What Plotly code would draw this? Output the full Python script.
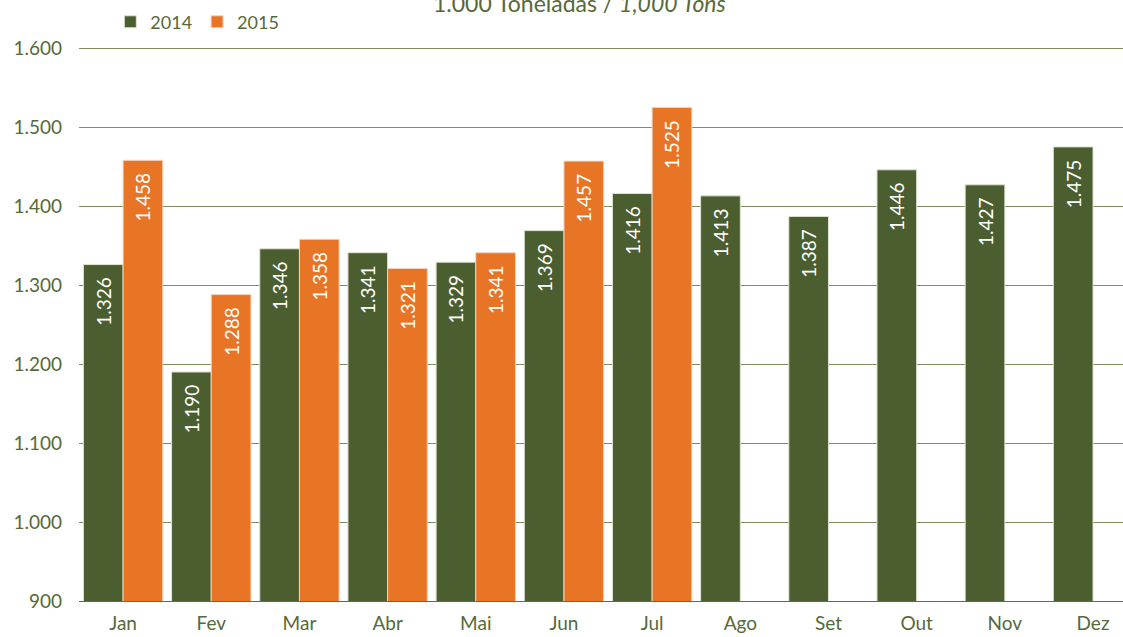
import plotly.graph_objects as go

months = ["Jan", "Fev", "Mar", "Abr", "Mai", "Jun", "Jul", "Ago", "Set", "Out", "Nov", "Dez"]
v2014 = [1326, 1190, 1346, 1341, 1329, 1369, 1416, 1413, 1387, 1446, 1427, 1475]
v2015 = [1458, 1288, 1358, 1321, 1341, 1457, 1525, None, None, None, None, None]
yticks = [900, 1000, 1100, 1200, 1300, 1400, 1500, 1600]
ytick_labels = ["900", "1.000", "1.100", "1.200", "1.300", "1.400", "1.500", "1.600"]

GREEN = "#4a5e2f"
ORANGE = "#e87425"
TEXTC = "#56693a"
FONT = "Lato"

def fmt(v):
    return "" if v is None else f"{v/1000:.3f}\u00a0\u00a0"

fig = go.Figure()
fig.add_trace(go.Bar(
    x=months, y=v2014, name="2014",
    marker=dict(color=GREEN, line=dict(color="#dfe3d3", width=1)),
    text=[fmt(v) for v in v2014], textposition="inside", insidetextanchor="end",
    textangle=-90, textfont=dict(color="white", size=19, family=FONT),
))
fig.add_trace(go.Bar(
    x=months, y=v2015, name="2015",
    marker=dict(color=ORANGE, line=dict(color="#f3d2bc", width=1)),
    text=[fmt(v) for v in v2015], textposition="inside", insidetextanchor="end",
    textangle=-90, textfont=dict(color="white", size=19, family=FONT),
))

fig.update_layout(
    width=1123, height=637,
    margin=dict(l=79, r=0, t=47, b=36, autoexpand=False),
    paper_bgcolor="white", plot_bgcolor="white",
    barmode="group", bargap=0.1, bargroupgap=0,
    font=dict(family=FONT, color=TEXTC, size=18),
    showlegend=True,
    legend=dict(orientation="h", x=0.03, y=1.045, xanchor="left", yanchor="middle",
                font=dict(size=18, color=TEXTC), traceorder="normal",
                itemwidth=30, bgcolor="rgba(0,0,0,0)"),
    xaxis=dict(range=[-0.5, 11.34], showgrid=False, ticks="", showline=True,
               linecolor="#5f7040", linewidth=1.3, ticklabelstandoff=5,
               tickfont=dict(size=19, color=TEXTC)),
    yaxis=dict(range=[900, 1601.5], tickvals=yticks, ticktext=ytick_labels,
               showgrid=True, gridcolor="#7f8c5e", gridwidth=1.3, zeroline=False,
               showline=False, ticks="", ticklabelstandoff=16,
               tickfont=dict(size=19, color=TEXTC)),
    annotations=[dict(
        text="1.000 Toneladas / <i>1,000 Tons</i>", x=0.479, y=1.08,
        xref="paper", yref="paper", xanchor="center", yanchor="middle",
        showarrow=False, font=dict(size=23, color=TEXTC, family=FONT))],
)

fig.write_html(
    "out.html",
    config={"displayModeBar": False},
    post_script="document.body.style.margin='0';document.body.style.overflow='hidden';",
)
